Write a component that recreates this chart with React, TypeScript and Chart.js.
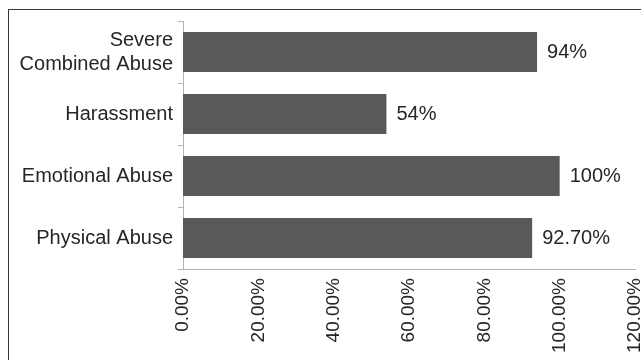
import React, { useEffect, useRef } from 'react';
import { Chart, registerables } from 'chart.js';

Chart.register(...registerables);

const categories: (string | string[])[] = [['Severe', 'Combined Abuse'], 'Harassment', 'Emotional Abuse', 'Physical Abuse'];
const values = [94, 54, 100, 92.7];
const valueLabels = ['94%', '54%', '100%', '92.70%'];
const xTicks = [0, 20, 40, 60, 80, 100, 120];

const FONT = '"Liberation Sans", Arial, sans-serif';
const TEXT = '#262626';
const AXIS = '#b3b3b3';
const BAR = '#595959';

const valueLabelPlugin = {
  id: 'valueLabels',
  afterDatasetsDraw(chart: any) {
    const ctx = chart.ctx;
    const meta = chart.getDatasetMeta(0);
    ctx.save();
    ctx.font = `20px ${FONT}`;
    ctx.fillStyle = TEXT;
    ctx.textAlign = 'left';
    ctx.textBaseline = 'middle';
    meta.data.forEach((bar: any, i: number) => {
      ctx.fillText(valueLabels[i], bar.x + 10, bar.y);
    });
    ctx.restore();
  },
};

export default function App() {
  const ref = useRef<HTMLCanvasElement | null>(null);

  useEffect(() => {
    if (!ref.current) return;
    const chart = new Chart(ref.current, {
      type: 'bar',
      data: {
        labels: categories as any,
        datasets: [
          {
            data: values,
            backgroundColor: BAR,
            borderWidth: 0,
            barPercentage: 0.645,
            categoryPercentage: 1,
          },
        ],
      },
      options: {
        indexAxis: 'y',
        responsive: false,
        animation: false,
        devicePixelRatio: 1,
        layout: { padding: { top: 11, right: 74, left: 0, bottom: 0 } },
        plugins: {
          legend: { display: false },
          tooltip: { enabled: false },
        },
        scales: {
          x: {
            min: 0,
            max: 120,
            grid: { display: false, drawTicks: false },
            border: { display: true, color: AXIS, width: 1 },
            ticks: {
              font: { family: FONT, size: 19 },
              color: TEXT,
              padding: 9,
              minRotation: 90,
              maxRotation: 90,
              autoSkip: false,
              callback: (v: any) => Number(v).toFixed(2) + '%',
            },
            afterBuildTicks: (s: any) => {
              s.ticks = xTicks.map((v) => ({ value: v }));
            },
            afterFit: (s: any) => {
              s.height = 121;
              s.paddingLeft = 0;
              s.paddingRight = 0;
            },
          },
          y: {
            grid: {
              display: true,
              drawOnChartArea: false,
              offset: true,
              tickLength: 5,
              color: AXIS,
              lineWidth: 1,
            },
            border: { display: true, color: AXIS, width: 1 },
            ticks: {
              font: { family: FONT, size: 20 },
              color: TEXT,
              padding: 5,
              autoSkip: false,
            },
            afterFit: (s: any) => {
              s.width = 174;
              s.paddingTop = 0;
              s.paddingBottom = 0;
            },
          },
        },
      } as any,
      plugins: [valueLabelPlugin],
    });
    return () => chart.destroy();
  }, []);

  return (
    <div
      style={{
        position: 'fixed',
        left: 0,
        top: 0,
        width: 641,
        height: 360,
        overflow: 'hidden',
        background: '#fff',
      }}
    >
      <div
        style={{
          position: 'absolute',
          left: 8,
          top: 9,
          width: 700,
          height: 400,
          border: '1px solid #3a3a3a',
          boxSizing: 'border-box',
        }}
      />
      <canvas
        ref={ref}
        width={700}
        height={380}
        style={{ position: 'absolute', left: 9, top: 10, width: 700, height: 380 }}
      />
    </div>
  );
}
